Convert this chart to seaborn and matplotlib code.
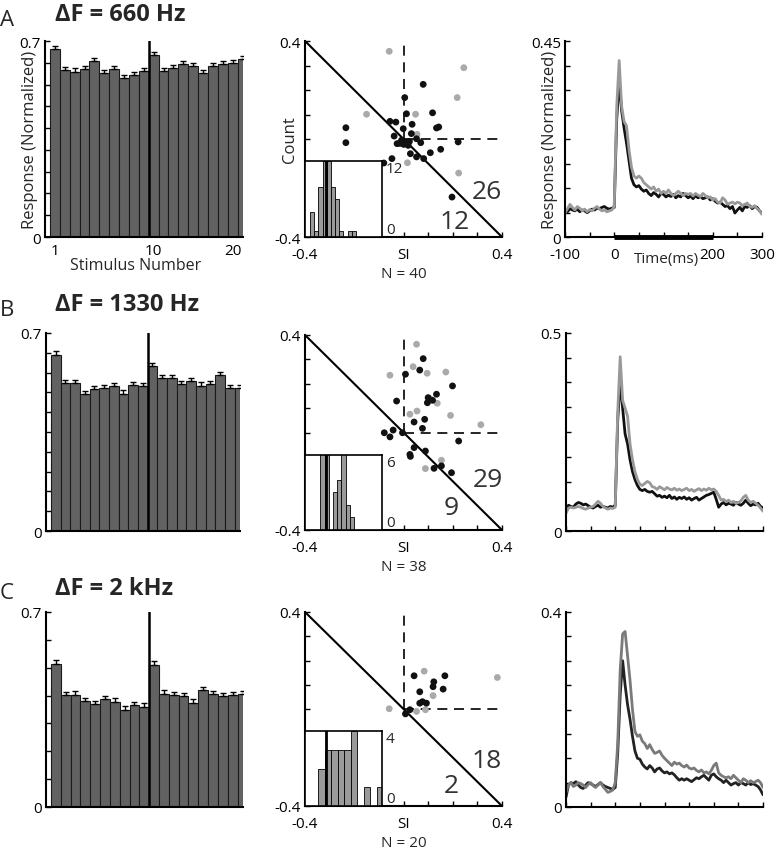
import numpy as np
import seaborn as sns
import matplotlib.pyplot as plt

sns.set_style('ticks')
plt.rcParams['font.family'] = ['Open Sans', 'DejaVu Sans']

# ---------------- data ----------------
stim_num = list(range(1, 21))

resp_a = [0.670, 0.597, 0.591, 0.599, 0.628, 0.587, 0.599, 0.569, 0.580, 0.593,
          0.649, 0.592, 0.604, 0.617, 0.611, 0.587, 0.612, 0.617, 0.623, 0.635]
err_a = [0.012, 0.011, 0.011, 0.010, 0.012, 0.010, 0.011, 0.011, 0.010, 0.011,
         0.013, 0.011, 0.010, 0.010, 0.010, 0.011, 0.010, 0.011, 0.010, 0.010]
resp_b = [0.622, 0.522, 0.522, 0.484, 0.502, 0.504, 0.512, 0.486, 0.516, 0.511,
          0.582, 0.541, 0.541, 0.519, 0.529, 0.514, 0.519, 0.550, 0.504, 0.504]
err_b = [0.013, 0.012, 0.012, 0.011, 0.012, 0.011, 0.011, 0.012, 0.012, 0.011,
         0.013, 0.012, 0.011, 0.012, 0.011, 0.012, 0.012, 0.011, 0.012, 0.012]
resp_c = [0.512, 0.401, 0.402, 0.381, 0.369, 0.387, 0.377, 0.348, 0.366, 0.360,
          0.510, 0.407, 0.401, 0.397, 0.375, 0.420, 0.404, 0.398, 0.402, 0.404]
err_c = [0.014, 0.013, 0.013, 0.012, 0.013, 0.012, 0.013, 0.013, 0.012, 0.013,
         0.014, 0.012, 0.012, 0.013, 0.012, 0.012, 0.012, 0.012, 0.012, 0.012]

# selectivity index scatter (x = SI, y = second SI)
a_black_x = [-0.234, -0.234, 0.080, 0.005, 0.118, 0.012, -0.055, -0.031, 0.035, -0.001,
             -0.038, 0.032, -0.008, -0.026, 0.012, 0.001, 0.019, 0.053, 0.070, 0.134,
             0.143, 0.222, 0.151, 0.109, 0.028, 0.053, 0.082, -0.047, -0.080, 0.197,
             0.024, -0.015]
a_black_y = [0.046, -0.015, 0.223, 0.169, 0.107, 0.103, 0.072, 0.069, 0.060, 0.042,
             0.012, 0.022, -0.005, -0.019, -0.012, -0.022, -0.026, 0.001, -0.015, 0.045,
             0.049, -0.012, -0.042, -0.056, -0.060, -0.073, -0.080, -0.080, -0.098, -0.237,
             -0.010, -0.018]
a_gray_x = [-0.058, 0.245, 0.218, -0.150, 0.049, 0.055, 0.016, 0.224]
a_gray_y = [0.358, 0.291, 0.169, 0.101, 0.101, 0.019, -0.097, -0.139]

b_black_x = [0.080, 0.066, 0.008, 0.199, 0.134, 0.100, 0.097, 0.118, -0.028, 0.086,
             0.043, 0.077, -0.078, -0.055, -0.042, -0.004, 0.224, 0.043, 0.026, 0.028,
             0.089, 0.124, 0.154, 0.195]
b_black_y = [0.303, 0.256, 0.239, 0.191, 0.157, 0.143, 0.122, 0.132, 0.129, 0.054,
             0.043, 0.017, -0.001, -0.018, 0.010, -0.001, -0.035, -0.062, -0.090, -0.098,
             -0.076, -0.147, -0.137, -0.165]
b_gray_x = [0.053, -0.055, 0.039, 0.096, 0.172, 0.107, 0.137, 0.026, 0.055, 0.191,
            0.314, 0.154, 0.089]
b_gray_y = [0.362, 0.235, 0.270, 0.243, 0.248, 0.139, 0.120, 0.075, 0.088, 0.070,
            0.032, -0.114, -0.148]

c_black_x = [0.043, 0.168, 0.123, 0.120, 0.161, 0.066, 0.066, 0.093, 0.077, 0.008, 0.026]
c_black_y = [0.137, 0.137, 0.112, 0.092, 0.082, 0.071, 0.024, 0.024, 0.030, -0.020, -0.003]
c_gray_x = [0.084, 0.381, 0.120, -0.058, 0.053, 0.089]
c_gray_y = [0.156, 0.130, 0.055, 0.001, -0.010, -0.003]

# inset histograms of SI
hist_a_si = [-0.165, -0.115, -0.065, -0.015, 0.035, 0.085, 0.135, 0.185, 0.235, 0.285, 0.335]
hist_a_n = [4, 1, 8, 12, 12, 8, 6, 1, 0, 1, 1]
hist_b_si = [-0.04, 0.01, 0.06, 0.11, 0.16, 0.21, 0.26, 0.31]
hist_b_n = [7, 7, 0, 3, 4, 7, 2, 1]
hist_c_si = [-0.051, 0.027, 0.105, 0.183, 0.261, 0.339, 0.417, 0.495, 0.573, 0.651]
hist_c_n = [2, 3, 3, 3, 3, 4, 0, 1, 0, 1]

# population responses (5 ms bins)
time_ms = list(range(-100, 301, 5))
STIM_ON, STIM_OFF = 0, 200

a_gray = [0.055, 0.065, 0.075, 0.068, 0.062, 0.070, 0.066, 0.060, 0.064, 0.058,
          0.063, 0.060, 0.066, 0.070, 0.064, 0.060, 0.062, 0.058, 0.060, 0.062,
          0.070, 0.300, 0.405, 0.300, 0.265, 0.255, 0.200, 0.160, 0.140, 0.135,
          0.140, 0.135, 0.125, 0.120, 0.115, 0.110, 0.115, 0.105, 0.110, 0.100,
          0.105, 0.100, 0.108, 0.100, 0.095, 0.100, 0.105, 0.100, 0.095, 0.100,
          0.098, 0.100, 0.094, 0.100, 0.096, 0.093, 0.100, 0.095, 0.090, 0.092,
          0.085, 0.088, 0.080, 0.078, 0.090, 0.085, 0.075, 0.078, 0.080, 0.076,
          0.080, 0.078, 0.072, 0.075, 0.078, 0.070, 0.068, 0.072, 0.065, 0.060,
          0.052]
a_black = [0.060, 0.058, 0.065, 0.062, 0.060, 0.064, 0.058, 0.062, 0.060, 0.056,
           0.060, 0.064, 0.062, 0.066, 0.065, 0.068, 0.070, 0.066, 0.064, 0.066,
           0.068, 0.270, 0.360, 0.290, 0.250, 0.215, 0.175, 0.135, 0.120, 0.115,
           0.118, 0.110, 0.105, 0.108, 0.100, 0.095, 0.102, 0.098, 0.092, 0.100,
           0.098, 0.092, 0.096, 0.093, 0.098, 0.090, 0.095, 0.092, 0.100, 0.095,
           0.090, 0.094, 0.088, 0.095, 0.090, 0.093, 0.088, 0.090, 0.092, 0.085,
           0.088, 0.082, 0.078, 0.080, 0.075, 0.070, 0.072, 0.065, 0.070, 0.055,
           0.062, 0.068, 0.060, 0.070, 0.068, 0.072, 0.065, 0.070, 0.068, 0.060,
           0.055]
b_gray = [0.045, 0.058, 0.060, 0.058, 0.060, 0.062, 0.060, 0.057, 0.055, 0.058,
          0.060, 0.062, 0.068, 0.075, 0.070, 0.062, 0.058, 0.055, 0.058, 0.057,
          0.060, 0.300, 0.440, 0.330, 0.310, 0.290, 0.220, 0.180, 0.150, 0.130,
          0.118, 0.115, 0.120, 0.125, 0.122, 0.112, 0.110, 0.105, 0.112, 0.108,
          0.104, 0.110, 0.106, 0.104, 0.108, 0.103, 0.106, 0.102, 0.105, 0.108,
          0.102, 0.105, 0.100, 0.104, 0.107, 0.102, 0.106, 0.103, 0.108, 0.104,
          0.106, 0.100, 0.090, 0.078, 0.080, 0.074, 0.078, 0.072, 0.075, 0.070,
          0.072, 0.076, 0.085, 0.090, 0.078, 0.072, 0.075, 0.070, 0.065, 0.058,
          0.050]
b_black = [0.055, 0.065, 0.062, 0.060, 0.068, 0.072, 0.070, 0.066, 0.068, 0.064,
           0.060, 0.058, 0.062, 0.065, 0.060, 0.062, 0.060, 0.058, 0.062, 0.060,
           0.065, 0.280, 0.380, 0.310, 0.245, 0.220, 0.180, 0.150, 0.130, 0.115,
           0.105, 0.102, 0.105, 0.100, 0.098, 0.100, 0.094, 0.088, 0.090, 0.085,
           0.088, 0.084, 0.090, 0.082, 0.086, 0.080, 0.085, 0.082, 0.086, 0.080,
           0.084, 0.078, 0.082, 0.085, 0.078, 0.082, 0.086, 0.090, 0.092, 0.095,
           0.098, 0.080, 0.060, 0.068, 0.072, 0.066, 0.070, 0.068, 0.065, 0.072,
           0.068, 0.065, 0.070, 0.078, 0.070, 0.064, 0.068, 0.066, 0.070, 0.062,
           0.058]
c_gray = [0.030, 0.045, 0.050, 0.042, 0.045, 0.050, 0.048, 0.045, 0.040, 0.046,
          0.050, 0.044, 0.040, 0.045, 0.050, 0.042, 0.036, 0.030, 0.032, 0.035,
          0.050, 0.130, 0.280, 0.355, 0.360, 0.310, 0.260, 0.200, 0.155, 0.145,
          0.148, 0.135, 0.130, 0.120, 0.128, 0.118, 0.110, 0.112, 0.115, 0.106,
          0.100, 0.095, 0.090, 0.085, 0.092, 0.088, 0.090, 0.085, 0.082, 0.086,
          0.080, 0.078, 0.080, 0.075, 0.072, 0.076, 0.070, 0.072, 0.068, 0.075,
          0.085, 0.090, 0.070, 0.065, 0.062, 0.060, 0.062, 0.058, 0.065, 0.060,
          0.055, 0.050, 0.058, 0.055, 0.050, 0.054, 0.050, 0.052, 0.055, 0.050,
          0.040]
c_black = [0.020, 0.045, 0.050, 0.048, 0.052, 0.045, 0.040, 0.038, 0.045, 0.050,
           0.048, 0.045, 0.042, 0.046, 0.050, 0.045, 0.042, 0.040, 0.038, 0.036,
           0.040, 0.110, 0.230, 0.300, 0.250, 0.210, 0.180, 0.145, 0.115, 0.100,
           0.098, 0.088, 0.082, 0.078, 0.085, 0.080, 0.072, 0.078, 0.080, 0.074,
           0.070, 0.072, 0.068, 0.070, 0.066, 0.060, 0.055, 0.058, 0.055, 0.058,
           0.055, 0.052, 0.056, 0.060, 0.058, 0.062, 0.065, 0.060, 0.055, 0.065,
           0.068, 0.062, 0.058, 0.055, 0.050, 0.055, 0.050, 0.045, 0.048, 0.050,
           0.045, 0.050, 0.048, 0.045, 0.050, 0.046, 0.048, 0.045, 0.042, 0.035,
           0.025]

# ---------------- layout ----------------
W, H = 782, 853
fig = plt.figure(figsize=(W / 100, H / 100), dpi=100)


def px_axes(left, top, width, height):
    return fig.add_axes([left / W, 1 - (top + height) / H, width / W, height / H])


def style_axes(ax):
    sns.despine(ax=ax)
    for s in ['left', 'bottom']:
        ax.spines[s].set_linewidth(1.5)
        ax.spines[s].set_color('k')
    ax.tick_params(direction='in', length=3.5, width=1, labelsize=11, colors='k')
    ax.tick_params(axis='x', pad=7)
    ax.tick_params(axis='y', pad=3)


def draw_bars(ax, resp, err, n_ticks, show_x):
    sns.barplot(x=stim_num, y=resp, native_scale=True, width=1.0, color='#626262',
                saturation=1, edgecolor='#1a1a1a', linewidth=0.8, ax=ax)
    ax.errorbar(stim_num, resp, yerr=[np.zeros(len(err)), err], fmt='none',
                ecolor='k', elinewidth=1, capsize=2.5, capthick=1)
    ax.axvline(10.5, color='k', lw=1.8)
    ax.set_xlim(0, 20.05)
    ax.set_ylim(0, 0.7)
    ticks = np.linspace(0, 0.7, n_ticks)
    ax.set_yticks(ticks, ['0'] + [''] * (n_ticks - 2) + ['0.7'])
    style_axes(ax)
    ax.tick_params(axis='x', length=0, pad=4)
    if show_x:
        ax.set_xticks([1, 11, 19], ['1', '10', '20'])
        ax.set_xlabel('Stimulus Number', fontsize=11.5)
        ax.xaxis.set_label_coords(0.46, -0.1)
        ax.set_ylabel('Response (Normalized)', fontsize=12)
        ax.yaxis.set_label_coords(-0.035, 0.5)
    else:
        ax.set_xticks([])
        ax.set_xlabel('')
        ax.set_ylabel('')


def draw_scatter(ax, bx, by, gx, gy, hx, hn, htop, n_text, nums, count_label):
    sns.scatterplot(x=gx, y=gy, color='#aaaaaa', s=24, edgecolor='none', ax=ax, zorder=3)
    sns.scatterplot(x=bx, y=by, color='#111111', s=24, edgecolor='none', ax=ax, zorder=4)
    ax.axline((0, 0), slope=-1, color='k', lw=1.5, zorder=2)
    ax.axvline(0, ymin=0.5, ymax=1, color='k', lw=1.2, dashes=(6, 4))
    ax.axhline(0, xmin=0.5, xmax=1, color='k', lw=1.2, dashes=(6, 4))
    ax.set_xlim(-0.4, 0.4)
    ax.set_ylim(-0.4, 0.4)
    ticks = np.linspace(-0.4, 0.4, 9)
    ax.set_xticks(ticks, ['-0.4', '', '', '', 'SI', '', '', '', '0.4'])
    ax.set_yticks(ticks, ['-0.4'] + [''] * 7 + ['0.4'])
    style_axes(ax)
    ax.set_xlabel(n_text, fontsize=11)
    ax.xaxis.set_label_coords(0.5, -0.15)
    if count_label:
        ax.set_ylabel('Count', fontsize=12)
        ax.yaxis.set_label_coords(-0.035, 0.5)
    else:
        ax.set_ylabel('')
    for (tx, ty, s) in nums:
        ax.text(tx, ty, s, fontsize=19, color='#333333', ha='center', va='center')

    ins = ax.inset_axes([0, 0, 0.39, 0.386])
    sns.barplot(x=hx, y=hn, native_scale=True, width=1.0, color='#9a9a9a', saturation=1,
                edgecolor='k', linewidth=0.6, ax=ins)
    ins.axvline(0, color='k', lw=2)
    ins.set_xlim(-0.25, 0.67)
    ins.set_ylim(0, htop)
    ins.set_xticks([])
    ins.set_xlabel('')
    ins.set_ylabel('')
    ins.yaxis.tick_right()
    ins.set_yticks([0, htop], ['0', str(htop)])
    labs = ins.get_yticklabels()
    labs[0].set_va('bottom')
    labs[1].set_va('top')
    ins.tick_params(length=0, labelsize=11, pad=3)
    for s in ins.spines.values():
        s.set_linewidth(1.2)
        s.set_color('k')
        s.set_visible(True)


def draw_trace(ax, black, gray, ymax, ylab, black_col, gray_col, show_x):
    sns.lineplot(x=time_ms, y=black, color=black_col, lw=2, ax=ax)
    sns.lineplot(x=time_ms, y=gray, color=gray_col, lw=2, ax=ax)
    ax.set_xlim(-100, 300)
    ax.set_ylim(0, ymax)
    ax.set_xticks(np.arange(-100, 301, 50),
                  ['-100', '', '0', '', '', '', '200', '', '300'] if show_x else [''] * 9)
    ax.set_yticks(np.linspace(0, ymax, 9), ['0'] + [''] * 7 + [ylab])
    style_axes(ax)
    if show_x:
        ax.hlines(0, STIM_ON, STIM_OFF, color='k', lw=3.5, zorder=5, clip_on=False)
        ax.set_xlabel('Time(ms)', fontsize=11)
        ax.xaxis.set_label_coords(0.515, -0.07)
        ax.set_ylabel('Response (Normalized)', fontsize=12)
        ax.yaxis.set_label_coords(-0.035, 0.5)
    else:
        ax.set_xlabel('')
        ax.set_ylabel('')


# row A
draw_bars(px_axes(45, 42, 198, 196), resp_a, err_a, 10, True)
draw_scatter(px_axes(305, 42, 197, 196), a_black_x, a_black_y, a_gray_x, a_gray_y,
             hist_a_si, hist_a_n, 12, 'N = 40',
             [(0.339, -0.216, '26'), (0.209, -0.335, '12')], True)
draw_trace(px_axes(565, 42, 197, 196), a_black, a_gray, 0.45, '0.45',
           '#111111', '#999999', True)

# row B
draw_bars(px_axes(46, 334, 194, 198), resp_b, err_b, 11, False)
draw_scatter(px_axes(305, 336, 197, 195), b_black_x, b_black_y, b_gray_x, b_gray_y,
             hist_b_si, hist_b_n, 6, 'N = 38',
             [(0.343, -0.192, '29'), (0.195, -0.306, '9')], False)
draw_trace(px_axes(566, 334, 197, 198), b_black, b_gray, 0.5, '0.5',
           '#111111', '#999999', False)

# row C
draw_bars(px_axes(46, 613, 197, 195), resp_c, err_c, 8, False)
draw_scatter(px_axes(305, 613, 197, 194), c_black_x, c_black_y, c_gray_x, c_gray_y,
             hist_c_si, hist_c_n, 4, 'N = 20',
             [(0.336, -0.211, '18'), (0.195, -0.316, '2')], False)
draw_trace(px_axes(566, 613, 197, 195), c_black, c_gray, 0.4, '0.4',
           '#222222', '#7a7a7a', False)

# panel letters and titles
for letter, title, y in [('A', 'ΔF = 660 Hz', 15), ('B', 'ΔF = 1330 Hz', 305),
                         ('C', 'ΔF = 2 kHz', 589)]:
    fig.text(0 / W, 1 - (y + 5) / H, letter, fontsize=16, ha='left', va='center')
    fig.text(55 / W, 1 - y / H, title, fontsize=17, fontweight='bold',
             ha='left', va='center')

fig.savefig('out.png', dpi=100)
